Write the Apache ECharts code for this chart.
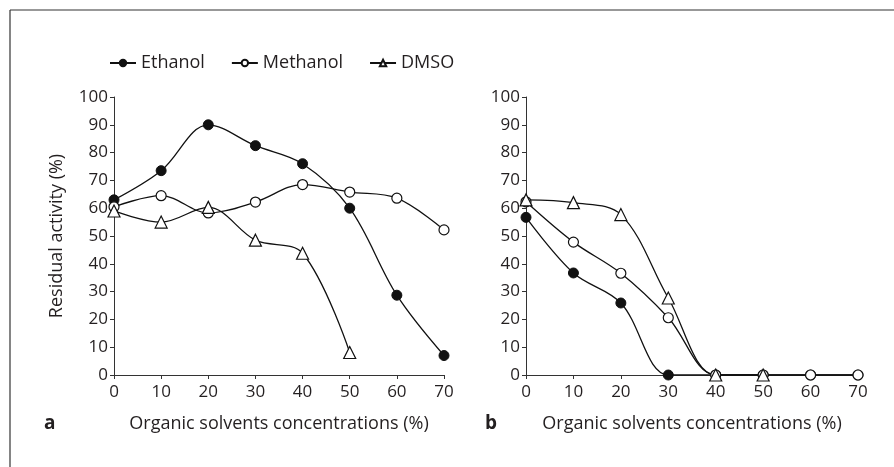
<!DOCTYPE html>
<html>
<head>
<meta charset="utf-8">
<script src="https://cdn.jsdelivr.net/npm/echarts@6/dist/echarts.min.js"></script>
<style>
html,body{margin:0;padding:0;background:#fff;}
#chart{width:894px;height:467px;}
</style>
</head>
<body>
<div id="chart"></div>
<script>
const concentrations = [0, 10, 20, 30, 40, 50, 60, 70];
const yTicks = [0, 10, 20, 30, 40, 50, 60, 70, 80, 90, 100];

// Panel a
const ethanolA = [63, 73.5, 90, 82.5, 76, 60, 28.7, 7];
const methanolA = [60.5, 64.5, 58.3, 62.2, 68.5, 65.8, 63.6, 52.2];
const dmsoA = [59, 55, 60.3, 48.5, 43.8, 8.1];

// Panel b
const ethanolB = [56.7, 36.7, 25.9, 0, 0, 0, 0, 0];
const methanolB = [62.3, 47.8, 36.6, 20.6, 0, 0, 0, 0];
const dmsoB = [63, 62, 57.7, 27.7, 0, 0];

const seriesNames = ['Ethanol', 'Methanol', 'DMSO'];
const panelLabels = ['a', 'b'];
const xTitle = 'Organic solvents concentrations (%)';
const yTitle = 'Residual activity (%)';

const FONT = '"Open Sans", sans-serif';
const TXT = '#231f20';

function pairs(vals) { return vals.map((v, i) => [concentrations[i], v]); }

const styles = {
  Ethanol: { symbol: 'circle', symbolSize: 10, itemStyle: { color: '#111', borderColor: '#111', borderWidth: 1 } },
  Methanol: { symbol: 'circle', symbolSize: 10, itemStyle: { color: '#fff', borderColor: '#111', borderWidth: 1.2 } },
  DMSO: { symbol: 'triangle', symbolSize: 12, itemStyle: { color: '#fff', borderColor: '#111', borderWidth: 1.2 } }
};

function mkSeries(name, vals, idx) {
  return Object.assign({
    name: name, type: 'line', xAxisIndex: idx, yAxisIndex: idx,
    data: pairs(vals), smooth: 0.35,
    lineStyle: { color: '#111', width: 1.3 },
    emphasis: { disabled: true }, animation: false, z: 2
  }, styles[name]);
}

function xAx(idx) {
  return {
    type: 'value', gridIndex: idx, min: 0, max: 70, interval: 10,
    name: xTitle, nameLocation: 'middle', nameGap: 40,
    nameTextStyle: { fontFamily: FONT, fontSize: 18, color: TXT },
    axisLine: { onZero: false, lineStyle: { color: '#333', width: 1 } },
    axisTick: { show: true, length: 4, lineStyle: { color: '#333' } },
    axisLabel: { fontFamily: FONT, fontSize: 17, color: TXT, margin: 9 },
    splitLine: { show: false }
  };
}
function yAx(idx, showName) {
  return {
    type: 'value', gridIndex: idx, min: 0, max: 100, interval: 10,
    name: showName ? yTitle : '', nameLocation: 'middle', nameGap: 48,
    nameTextStyle: { fontFamily: FONT, fontSize: 18, color: TXT },
    axisLine: { show: true, lineStyle: { color: '#333', width: 1 } },
    axisTick: { show: true, length: 4, lineStyle: { color: '#333' } },
    axisLabel: { fontFamily: FONT, fontSize: 17, color: TXT, margin: 6 },
    splitLine: { show: false }
  };
}

const chart = echarts.init(document.getElementById('chart'), null, { renderer: 'canvas' });
chart.setOption({
  backgroundColor: '#fff',
  animation: false,
  legend: {
    data: seriesNames, left: 104, top: 49, itemWidth: 26, itemHeight: 8, itemGap: 26,
    textStyle: { fontFamily: FONT, fontSize: 18, color: TXT },
    selectedMode: false
  },
  grid: [
    { left: 114, right: 450, top: 97, bottom: 92 },
    { left: 526, right: 36, top: 97, bottom: 92 }
  ],
  xAxis: [xAx(0), xAx(1)],
  yAxis: [yAx(0, true), yAx(1, false)],
  series: [
    mkSeries('Ethanol', ethanolA, 0),
    mkSeries('Methanol', methanolA, 0),
    mkSeries('DMSO', dmsoA, 0),
    mkSeries('Ethanol', ethanolB, 1),
    mkSeries('Methanol', methanolB, 1),
    mkSeries('DMSO', dmsoB, 1)
  ],
  graphic: [
    { type: 'line', shape: { x1: 10, y1: 10, x2: 894, y2: 10 }, style: { stroke: '#333', lineWidth: 1.2 } },
    { type: 'line', shape: { x1: 10, y1: 10, x2: 10, y2: 467 }, style: { stroke: '#333', lineWidth: 1.2 } },
    { type: 'text', left: 44, top: 414, style: { text: panelLabels[0], font: 'bold 19px "Open Sans", sans-serif', fill: TXT } },
    { type: 'text', left: 485, top: 414, style: { text: panelLabels[1], font: 'bold 19px "Open Sans", sans-serif', fill: TXT } }
  ]
});
</script>
</body>
</html>
